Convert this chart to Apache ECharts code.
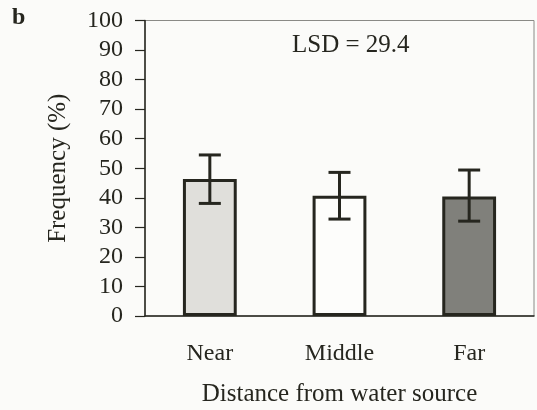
<!DOCTYPE html>
<html>
<head>
<meta charset="utf-8">
<script src="https://cdn.jsdelivr.net/npm/echarts@6/dist/echarts.min.js"></script>
<style>
  html, body { margin: 0; padding: 0; background: #fbfbf9; }
  #chart { width: 537px; height: 410px; }
</style>
</head>
<body>
<div id="chart"></div>
<script>
// Distance classes and frequency values (%)
const categories = ['Near', 'Middle', 'Far'];
const means = [46.4, 40.7, 40.4];
const errLow = [38.1, 32.8, 32.1];
const errHigh = [54.5, 48.6, 49.4];
const yTicks = [0, 10, 20, 30, 40, 50, 60, 70, 80, 90, 100];
const barFills = ['#e0dfdb', '#fdfdfb', '#80807b'];

const ink = '#26261f';
const serif = '"Liberation Serif", "DejaVu Serif", serif';

const chart = echarts.init(document.getElementById('chart'), null, { renderer: 'canvas' });

const option = {
  backgroundColor: '#fbfbf9',
  animation: false,
  grid: {
    left: 145, right: 3, top: 20.5, bottom: 94,
    outerBoundsMode: 'none', containLabel: false,
    show: true, borderColor: '#8a8a86', borderWidth: 1, backgroundColor: 'transparent'
  },
  xAxis: {
    type: 'category',
    data: categories,
    name: 'Distance from water source',
    nameLocation: 'middle',
    nameGap: 66,
    nameTextStyle: { fontFamily: serif, fontSize: 25, color: ink },
    axisLine: { lineStyle: { color: ink, width: 1.5 } },
    axisTick: { length: 8, lineStyle: { color: ink, width: 1.2 } },
    axisLabel: { fontFamily: serif, fontSize: 24, color: ink, margin: 26 }
  },
  yAxis: {
    type: 'value',
    min: 0, max: 100, interval: 10,
    name: 'Frequency (%)',
    nameLocation: 'middle',
    nameGap: 74,
    nameTextStyle: { fontFamily: serif, fontSize: 25, color: ink },
    splitLine: { show: false },
    axisLine: { show: true, lineStyle: { color: ink, width: 1.5 } },
    axisTick: { show: true, length: 10, lineStyle: { color: ink, width: 1.2 } },
    axisLabel: {
      fontFamily: serif, fontSize: 24, color: ink, margin: 22,
      formatter: v => (yTicks.includes(v) ? String(v) : '')
    }
  },
  graphic: [
    { type: 'text', left: 12, top: 6,
      style: { text: 'b', font: 'bold 24px ' + serif, fill: ink } },
    { type: 'text', left: 292, top: 33,
      style: { text: 'LSD = 29.4', font: '25px ' + serif, fill: ink } }
  ],
  series: [
    {
      type: 'bar',
      barWidth: '41.5%',
      data: means.map((v, i) => ({
        value: v,
        itemStyle: { color: barFills[i], borderColor: ink, borderWidth: 3 }
      })),
      z: 2
    },
    {
      type: 'custom',
      z: 3,
      data: categories.map((c, i) => [i, errLow[i], errHigh[i]]),
      renderItem: (params, api) => {
        const x = api.value(0);
        const lo = api.coord([x, api.value(1)]);
        const hi = api.coord([x, api.value(2)]);
        const half = 11;
        const style = { stroke: ink, lineWidth: 3, fill: null };
        return {
          type: 'group',
          children: [
            { type: 'line', shape: { x1: lo[0], y1: lo[1], x2: hi[0], y2: hi[1] }, style },
            { type: 'line', shape: { x1: hi[0] - half, y1: hi[1], x2: hi[0] + half, y2: hi[1] }, style },
            { type: 'line', shape: { x1: lo[0] - half, y1: lo[1], x2: lo[0] + half, y2: lo[1] }, style }
          ]
        };
      }
    }
  ]
};

chart.setOption(option);
</script>
</body>
</html>
